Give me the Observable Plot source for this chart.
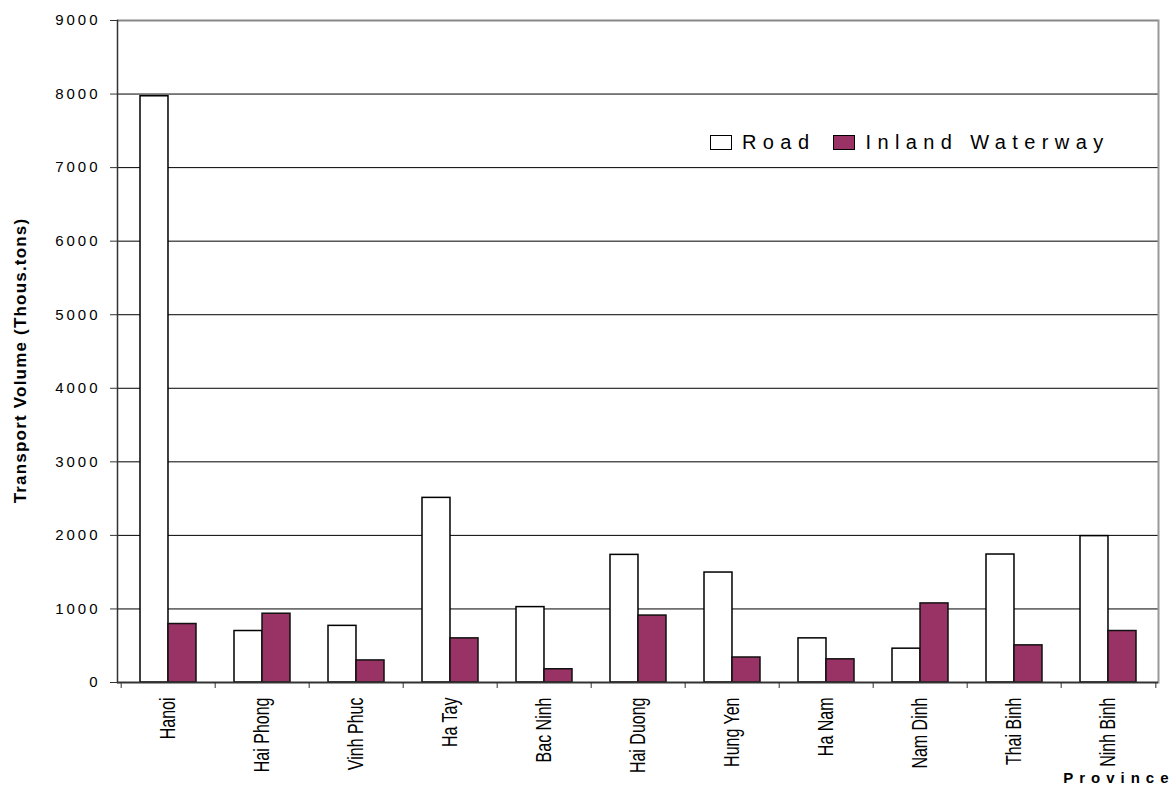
<!DOCTYPE html>
<html>
<head>
<meta charset="utf-8">
<script src="https://cdn.jsdelivr.net/npm/d3@7"></script>
<script src="https://cdn.jsdelivr.net/npm/@observablehq/plot@0.6"></script>
<style>
  html, body { margin: 0; padding: 0; background: #fff; }
  #wrap { position: relative; width: 1176px; height: 789px; }
  #wrap svg [aria-label="y-axis tick label"] text { letter-spacing: 3px; }
  #legend {
    position: absolute; left: 710px; top: 131px;
    display: flex; align-items: center;
    font-family: "Liberation Sans", Arial, sans-serif; font-size: 20px;
    letter-spacing: 6.4px; color: #000; white-space: nowrap;
  }
  #legend .sw { display: inline-block; box-sizing: border-box; width: 22px; height: 15px; border: 1.5px solid #000; }
  #legend .lab { margin-left: 10px; margin-right: 18px; }
</style>
</head>
<body>
<div id="wrap"></div>
<script>
// Freight transport volume by province (thousand tons)
const provinces = ["Hanoi", "Hai Phong", "Vinh Phuc", "Ha Tay", "Bac Ninh", "Hai Duong", "Hung Yen", "Ha Nam", "Nam Dinh", "Thai Binh", "Ninh Binh"];
const road      = [7970, 700, 770, 2510, 1025, 1735, 1495, 600, 460, 1740, 1990];
const waterway  = [795, 935, 300, 600, 180, 910, 340, 315, 1075, 505, 700];
const yTicks    = [0, 1000, 2000, 3000, 4000, 5000, 6000, 7000, 8000, 9000];
const seriesNames = ["Road", "Inland Waterway"];
const seriesColors = ["#ffffff", "#993366"];
const yTitle = "Transport Volume (Thous.tons)";
const xTitle = "Province";

const width = 1176, height = 789;
const marginLeft = 117, marginRight = 18, marginTop = 20, marginBottom = 107;
const padInner = 0.408;
const step = (width - marginLeft - marginRight) / provinces.length;
const bandwidth = step * (1 - padInner);

const roadRows = provinces.map((p, i) => ({province: p, value: road[i]}));
const waterRows = provinces.map((p, i) => ({province: p, value: waterway[i]}));

const chart = Plot.plot({
  width, height, marginLeft, marginRight, marginTop, marginBottom,
  style: {fontFamily: "'Liberation Sans', Arial, sans-serif", background: "#fff", color: "#000", overflow: "visible"},
  x: {domain: provinces, paddingInner: padInner, paddingOuter: padInner / 2, axis: null},
  y: {domain: [0, 9000], axis: null},
  marks: [
    Plot.ruleY(yTicks.filter(d => d > 0 && d < 9000), {stroke: "#000", strokeWidth: 1}),
    Plot.ruleY([9000], {stroke: "#888", strokeWidth: 2}),
    Plot.frame({anchor: "right", stroke: "#999", strokeWidth: 2}),
    Plot.barY(roadRows, {x: "province", y: "value", insetRight: bandwidth / 2, fill: seriesColors[0], stroke: "#000", strokeWidth: 1.5}),
    Plot.barY(waterRows, {x: "province", y: "value", insetLeft: bandwidth / 2, fill: seriesColors[1], stroke: "#111", strokeWidth: 1.5}),
    Plot.ruleY([0], {stroke: "#333", strokeWidth: 2}),
    Plot.frame({anchor: "left", stroke: "#333", strokeWidth: 1.5}),
    Plot.axisY({ticks: yTicks, tickSize: 7, tickPadding: 10, tickFormat: d3.format("d"), label: null, fontSize: 15, stroke: "#333"}),
    // category boundary ticks
    Plot.axisX({tickSize: 6, dx: -step / 2, tickFormat: () => "", label: null, stroke: "#333"}),
    Plot.axisX([provinces[provinces.length - 1]], {tickSize: 6, dx: step / 2, tickFormat: () => "", label: null, stroke: "#333"}),
    // rotated province names
    Plot.axisX({tickSize: 0, tickRotate: -90, tickPadding: 15, label: null, fontSize: 16}),
    Plot.text([yTitle], {frameAnchor: "left", textAnchor: "middle", rotate: -90, dx: -97, dy: 9, fontSize: 17, fontWeight: "bold", fill: "#000"}),
    Plot.text([xTitle], {frameAnchor: "bottom-right", textAnchor: "end", dx: 16, dy: 100, fontSize: 15, fontWeight: "bold", fill: "#000"})
  ]
});

// province names are set in tall, narrow lettering
chart.querySelectorAll('[aria-label="x-axis tick label"] text').forEach(t => {
  const tr = t.getAttribute("transform") || "";
  t.setAttribute("transform", tr + " scale(1,1.35)");
});
// spaced-out axis titles
chart.querySelectorAll("text").forEach(t => {
  if (t.textContent === xTitle) t.style.letterSpacing = "6px";
  if (t.textContent === yTitle) t.style.letterSpacing = "1.2px";
});

const wrap = document.getElementById("wrap");
wrap.appendChild(chart);

// legend drawn over the plot area
const legend = document.createElement("div");
legend.id = "legend";
seriesNames.forEach((name, i) => {
  const sw = document.createElement("span");
  sw.className = "sw";
  sw.style.background = seriesColors[i];
  const lab = document.createElement("span");
  lab.className = "lab";
  lab.textContent = name;
  legend.appendChild(sw);
  legend.appendChild(lab);
});
wrap.appendChild(legend);
</script>
</body>
</html>
